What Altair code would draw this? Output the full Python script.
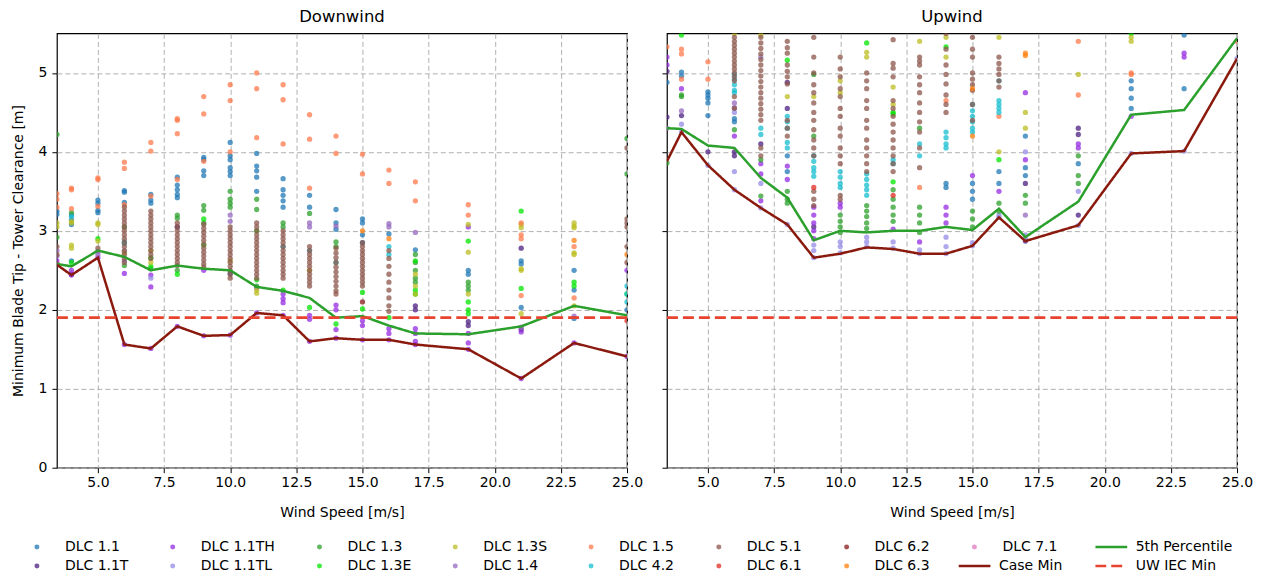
import altair as alt
import pandas as pd

# ---------------- data ----------------
DLCS = ["1.1", "1.1T", "1.1TH", "1.1TL", "1.3", "1.3E", "1.3S", "1.4",
        "1.5", "4.2", "5.1", "6.1", "6.2", "6.3", "7.1"]
DLC_COLORS = ["#1f77b4", "#4b1f80", "#962be0", "#968be6", "#2ca02c", "#00e600",
              "#bcbd22", "#9467bd", "#ff794b", "#17becf", "#8c564b", "#e12b23",
              "#8b1a1a", "#ff7f0e", "#e377c2"]
# legend order, filled row by row (two rows)
LEGEND_DLC = ["1.1", "1.1TH", "1.3", "1.3S", "1.5", "5.1", "6.2", "7.1",
              "1.1T", "1.1TL", "1.3E", "1.4", "4.2", "6.1", "6.3"]

LINE_SERIES = [" ", "5th Percentile", "Case Min", "UW IEC Min"]
LINE_COLORS = ["rgba(0,0,0,0)", "#2ca02c", "#8b1a0e", "#e8432e"]
LINE_DASHES = [[1, 0], [1, 0], [1, 0], [11, 5]]

WS = [3.45, 4, 5, 6, 7, 8, 9, 10, 11, 12, 13, 14, 15, 16, 17, 19, 21, 23, 25]
DW_P5 = [2.58, 2.55, 2.75, 2.67, 2.50, 2.56, 2.52, 2.50, 2.29, 2.24, 2.15, 1.90,
         1.92, 1.80, 1.70, 1.69, 1.79, 2.05, 1.93]
DW_MIN = [2.57, 2.44, 2.66, 1.56, 1.51, 1.79, 1.67, 1.68, 1.96, 1.93, 1.60, 1.64,
          1.62, 1.62, 1.56, 1.50, 1.13, 1.58, 1.41]
UW_P5 = [4.30, 4.29, 4.08, 4.05, 3.67, 3.42, 2.88, 3.00, 2.98, 3.00, 3.00, 3.05,
         3.01, 3.28, 2.92, 3.37, 4.47, 4.53, 5.44]
UW_MIN = [3.88, 4.25, 3.83, 3.52, 3.29, 3.08, 2.66, 2.71, 2.79, 2.77, 2.71, 2.71,
          2.81, 3.17, 2.87, 3.07, 3.98, 4.01, 5.18]
IEC_MIN = 1.9

X_TICKS = [5.0, 7.5, 10.0, 12.5, 15.0, 17.5, 20.0, 22.5, 25.0]
Y_TICKS = [0, 1, 2, 3, 4, 5]

DW_POINTS = {
    3.45: {"1.1": [3.25, 3.21], "1.1TH": [2.62], "1.3": [4.22, 2.92], "1.3S": [3.10, 3.05],
           "1.4": [2.75, 2.68], "1.5": [3.47, 3.40, 3.30], "5.1": [2.58, 2.70, 2.80]},
    4: {"1.1": [3.20, 3.14, 3.08, 2.62], "1.1T": [2.45], "1.1TH": [2.50, 2.44], "1.3": [3.23],
        "1.3E": [2.60], "1.3S": [3.12, 3.10, 2.82, 2.78], "1.5": [3.54, 3.52, 3.28], "4.2": [3.18]},
    5: {"1.1": [3.39, 3.35, 3.26, 3.23], "1.1TH": [2.66], "1.3E": [2.90], "1.3S": [3.10, 3.08, 2.87],
        "1.4": [2.74, 2.70], "1.5": [3.67, 3.65, 3.31], "5.1": [2.78]},
    6: {"1.1": [3.51, 3.49, 3.36], "1.1TH": [2.46, 1.56], "1.1TL": [2.62, 2.74], "1.3": [2.56, 3.05],
        "1.3S": [2.72], "1.5": [3.87, 3.79, 3.33], "4.2": [2.86, 2.84],
        "5.1": [3.30, 3.25, 3.20, 3.15, 3.10, 3.05, 3.00, 2.95, 2.90, 2.85, 2.80, 2.75, 2.70, 2.65, 2.60]},
    7: {"1.1": [3.46, 3.39, 3.35], "1.1TH": [2.44, 2.29, 1.51], "1.1TL": [2.40], "1.3": [2.52],
        "1.3E": [2.66, 2.55], "1.3S": [2.75, 2.60], "1.5": [4.12, 4.01, 3.44],
        "5.1": [3.25, 3.20, 3.15, 3.10, 3.05, 3.00, 2.95, 2.90, 2.85, 2.80, 2.75, 2.70, 2.65]},
    8: {"1.1": [3.68, 3.58, 3.52, 3.46, 3.42], "1.1T": [3.05], "1.1TH": [1.79], "1.3": [3.20, 3.16, 2.50],
        "1.3E": [2.45], "1.5": [4.42, 4.40, 4.23, 3.65],
        "5.1": [3.10, 3.05, 3.00, 2.95, 2.90, 2.85, 2.80, 2.75, 2.70, 2.65, 2.60, 2.56]},
    9: {"1.1": [3.93, 3.90, 3.76, 3.70], "1.1TH": [2.50, 1.67], "1.3": [3.32, 3.26, 3.10],
        "1.3E": [3.15, 2.82], "1.5": [4.70, 4.48, 3.88],
        "5.1": [3.08, 3.03, 2.98, 2.93, 2.88, 2.83, 2.78, 2.73, 2.68, 2.63, 2.58, 2.54]},
    10: {"1.1": [4.12, 3.95, 3.90, 3.80, 3.75, 3.70, 2.46], "1.1TH": [1.68], "1.3": [3.50, 3.40, 3.35, 3.30],
         "1.3S": [2.62], "1.4": [3.20, 3.12], "1.5": [4.85, 4.65, 4.00],
         "5.1": [3.05, 3.00, 2.95, 2.90, 2.85, 2.80, 2.75, 2.70, 2.65, 2.60, 2.55, 2.50, 2.45, 2.40]},
    11: {"1.1": [3.98, 3.82, 3.76, 3.68, 3.50], "1.1TH": [2.28, 1.96], "1.3": [3.40, 3.27, 2.30],
         "1.3E": [3.00, 2.38], "1.3S": [2.21, 2.25], "1.5": [5.00, 4.80, 4.18],
         "5.1": [3.10, 3.05, 3.00, 2.95, 2.90, 2.85, 2.80, 2.75, 2.70, 2.65, 2.60, 2.55, 2.50, 2.45, 2.40]},
    12: {"1.1": [3.66, 3.52, 3.45, 3.38, 3.30], "1.1TH": [2.20, 2.14, 2.09, 1.93], "1.3": [3.10, 3.05],
         "1.3E": [2.25], "1.5": [4.85, 4.66, 4.10], "4.2": [2.80],
         "5.1": [3.00, 2.95, 2.90, 2.85, 2.80, 2.75, 2.70, 2.65, 2.60, 2.55, 2.50, 2.45, 2.40]},
    13: {"1.1": [3.45, 3.30], "1.1TH": [1.93, 1.88, 1.60], "1.3": [3.22], "1.3E": [2.03], "1.3S": [2.50],
         "1.4": [3.10, 3.05], "1.5": [4.47, 4.16, 3.54], "4.2": [2.75],
         "5.1": [2.80, 2.75, 2.70, 2.65, 2.60, 2.55, 2.50, 2.45, 2.40, 2.35, 2.30]},
    14: {"1.1": [3.27, 3.10, 3.02], "1.1TH": [2.06, 2.00, 1.75, 1.64], "1.3": [2.86, 2.80], "1.3E": [1.82],
         "1.4": [3.06], "1.5": [4.20, 3.98], "4.2": [2.60],
         "5.1": [2.78, 2.72, 2.66, 2.60, 2.54, 2.48, 2.42, 2.36, 2.30, 2.24, 2.20]},
    15: {"1.1": [3.15, 3.10, 2.95, 2.85], "1.1TH": [1.86, 1.80, 1.62], "1.3E": [2.22, 2.01],
         "1.5": [3.97, 3.72], "5.1": [2.85, 2.80, 2.75, 2.70, 2.65, 2.60, 2.55, 2.50, 2.45, 2.40, 2.35, 2.30],
         "6.2": [2.10], "6.3": [3.00]},
    16: {"1.1": [2.96], "1.1TH": [1.76, 1.70, 1.62], "1.3E": [1.90], "1.4": [3.09, 3.05], "1.5": [3.77, 3.60],
         "4.2": [2.80, 2.70], "5.1": [2.75, 2.65, 2.55, 2.45, 2.35, 2.25, 2.15, 2.05, 1.98], "6.3": [2.90]},
    17: {"1.1": [2.76], "1.1T": [2.05, 2.00], "1.1TH": [1.76, 1.70, 1.60, 1.56],
         "1.3": [2.70, 2.60, 2.50, 2.40, 2.35], "1.3E": [2.62, 2.25, 2.20], "1.3S": [2.45, 2.30, 2.20],
         "1.4": [2.98], "1.5": [3.62, 3.38]},
    19: {"1.1": [2.50, 2.45], "1.1T": [1.85, 1.80], "1.1TH": [3.05, 1.70, 1.58, 1.50], "1.3": [2.35, 2.30, 2.25],
         "1.3E": [2.87, 2.10, 2.00, 1.95], "1.3S": [3.08, 2.73, 2.20], "1.5": [3.33, 3.20]},
    21: {"1.1": [2.62, 2.58, 2.03], "1.1T": [2.78, 1.75], "1.1TH": [1.72, 1.13], "1.3E": [3.25, 2.27],
         "1.3S": [3.08, 3.04, 2.52, 2.50, 1.95], "1.4": [1.78], "1.5": [3.10, 2.95, 2.90, 2.18]},
    23: {"1.1": [2.50, 2.25, 1.89], "1.1TH": [1.58], "1.3E": [2.35, 2.30],
         "1.3S": [3.10, 3.06, 3.04, 2.72, 2.70, 2.05], "1.4": [1.92], "1.5": [2.80, 2.15], "6.3": [2.88]},
    25: {"1.1": [2.00], "1.1TH": [2.50, 1.41], "1.3": [4.17, 3.72], "1.3E": [2.20], "4.2": [2.30, 2.20, 2.10],
         "5.1": [4.05, 3.15, 3.10, 3.05, 2.80, 2.60], "6.1": [1.86], "6.3": [2.70]},
}

UW_POINTS = {
    3.45: {"1.1": [4.88], "1.1T": [5.02, 4.44], "1.1TH": [5.20, 5.10], "1.3": [3.86], "1.4": [4.30],
           "1.5": [5.33]},
    4: {"1.1": [5.01, 4.96], "1.1T": [4.46], "1.1TH": [4.80], "1.1TL": [4.35, 4.25], "1.3": [4.72, 4.70],
        "1.3E": [5.48], "1.4": [4.52], "1.5": [5.30, 5.24, 4.92]},
    5: {"1.1": [4.76, 4.72, 4.68, 4.62, 4.46], "1.1T": [4.00], "1.1TL": [3.83], "1.5": [5.14, 4.92]},
    6: {"1.1": [4.42, 4.38], "1.1T": [4.00, 3.95], "1.1TH": [4.20], "1.1TL": [4.50, 3.75, 3.52], "1.3": [4.28],
        "1.3S": [5.50], "1.4": [4.62, 4.56], "4.2": [4.98, 4.92, 4.85, 4.78, 4.75],
        "5.1": [5.45, 5.40, 5.35, 5.30, 5.25, 5.20, 5.15, 5.10, 5.05, 5.00, 4.95, 4.90, 4.70, 4.55]},
    7: {"1.1T": [4.10], "1.1TH": [3.85, 3.72, 3.38], "1.1TL": [5.20, 3.60, 3.29], "1.3": [3.90, 3.44],
        "1.3S": [5.48], "4.2": [4.30, 4.22],
        "5.1": [5.45, 5.38, 5.31, 5.24, 5.17, 5.10, 5.03, 4.96, 4.89, 4.82, 4.75, 4.68, 4.61, 4.54,
                4.47, 4.40, 4.05, 3.95]},
    8: {"1.1": [3.95, 3.75], "1.1T": [4.88, 4.55], "1.1TH": [3.82, 3.65], "1.1TL": [3.08],
        "1.3": [3.50, 3.40, 3.35], "1.3E": [5.16], "1.3S": [4.70], "4.2": [4.45, 4.38, 4.30, 4.12, 4.05],
        "5.1": [5.40, 5.32, 5.25, 5.10, 5.02, 4.95, 4.86, 4.40, 4.30, 4.20]},
    9: {"1.1T": [3.05], "1.1TH": [3.30, 3.20, 3.10, 3.00, 2.90], "1.1TL": [2.82, 2.75, 2.66],
        "1.3": [4.98, 4.20], "1.3S": [4.70], "4.2": [3.95, 3.88, 3.80, 3.75, 3.69],
        "5.1": [5.45, 5.20, 5.00, 4.85, 4.75, 4.62, 4.50, 4.40, 4.28, 4.15, 4.05, 3.95, 3.50, 3.40, 3.32],
        "6.1": [3.55]},
    10: {"1.1TH": [3.35, 3.30], "1.1TL": [2.86, 2.80, 2.72], "1.3": [3.20, 3.12, 3.05, 2.98],
         "1.3S": [4.90, 4.75], "4.2": [3.75, 3.68, 3.60, 3.55],
         "5.1": [5.20, 5.05, 4.95, 4.80, 4.70, 4.55, 4.45, 4.30, 4.20, 4.05, 3.95, 3.85, 3.45, 3.40]},
    11: {"1.1TL": [2.92, 2.86, 2.80], "1.3": [3.32, 3.25, 3.18, 3.10, 3.03], "1.3E": [5.38],
         "1.3S": [5.26, 5.20], "4.2": [3.72, 3.65, 3.58, 3.52, 3.45],
         "5.1": [5.00, 4.90, 4.80, 4.65, 4.55, 4.40, 4.30, 4.15, 4.05, 3.95, 3.85, 3.75]},
    12: {"1.1TH": [3.02], "1.1TL": [2.86, 2.78], "1.3": [3.52, 3.40, 3.30, 3.20, 3.12],
         "1.3E": [4.50, 4.48, 3.62], "1.3S": [4.82, 4.60], "4.2": [3.90, 3.85],
         "5.1": [5.42, 5.12, 5.06, 4.95, 4.65, 4.55, 4.45, 4.35, 4.25, 4.15, 4.05, 3.95, 3.85, 3.75],
         "6.1": [3.45]},
    13: {"1.1TH": [2.86], "1.1TL": [2.76, 2.71], "1.3": [4.30, 3.30, 3.20, 3.10, 2.98], "1.3S": [5.40],
         "1.5": [3.55], "4.2": [4.10, 3.95],
         "5.1": [5.20, 5.15, 5.10, 4.95, 4.85, 4.75, 4.62, 4.50, 4.38, 4.25, 4.05, 3.80]},
    14: {"1.1": [3.60, 3.55], "1.1TH": [3.30, 3.20, 3.10], "1.1TL": [2.92, 2.80, 2.71], "1.3E": [5.33],
         "1.3S": [5.45, 5.20], "1.5": [4.65], "4.2": [4.25, 4.18, 4.10, 4.05],
         "5.1": [5.50, 5.30, 5.10, 4.98, 4.86, 4.72, 4.60, 4.50]},
    15: {"1.1": [3.60, 3.50, 3.40], "1.1TH": [3.70], "1.1TL": [2.85, 2.81], "1.3": [3.25, 3.15, 3.05],
         "4.2": [4.60, 4.52, 4.45, 4.38, 4.30, 4.25],
         "5.1": [5.45, 5.30, 5.20, 5.00, 4.92, 4.85, 4.78, 4.60, 4.40], "6.3": [4.80, 4.20]},
    16: {"1.1": [3.75, 3.60], "1.1TH": [3.50], "1.1TL": [3.20, 3.17], "1.3": [3.35, 3.25], "1.3E": [3.90],
         "1.3S": [5.45, 4.00], "1.5": [4.45], "4.2": [4.90, 4.65, 4.60, 4.55, 4.50],
         "5.1": [5.20, 5.12, 5.05, 4.98, 4.90, 4.82]},
    17: {"1.1": [4.20, 3.80, 3.70], "1.1T": [3.60, 2.87], "1.1TH": [4.75, 3.90], "1.1TL": [4.00, 2.95, 2.90],
         "1.3": [3.45, 3.35], "1.3S": [4.50, 4.30], "1.4": [3.20], "6.3": [5.25, 5.22]},
    19: {"1.1": [3.85], "1.1T": [4.30, 4.22, 3.20], "1.1TH": [4.10, 4.05], "1.1TL": [3.50, 3.07],
         "1.3": [3.95, 3.70, 3.60], "1.3S": [4.98], "1.5": [5.40, 4.72]},
    21: {"1.1": [4.90, 4.80, 4.68, 4.55], "1.1TH": [4.45], "1.1TL": [3.98], "1.3E": [5.50],
         "1.3S": [5.45, 5.40], "1.5": [5.00, 4.98]},
    23: {"1.1": [5.48, 4.80], "1.1TH": [5.25, 5.20], "1.1TL": [4.01]},
    25: {"1.1TL": [5.18], "1.5": [5.40]},
}

# ---------------- styling ----------------
FONT = "DejaVu Sans"
PANEL_W, PANEL_H = 571, 435


def points_frame(pts):
    rows = []
    for ws, groups in pts.items():
        for dlc, vals in groups.items():
            for v in vals:
                rows.append({"ws": ws, "clear": v, "dlc": "DLC " + dlc, "k": DLCS.index(dlc)})
    return pd.DataFrame(rows).sort_values("k", kind="stable").reset_index(drop=True)


color_scale = alt.Scale(domain=["DLC " + d for d in LEGEND_DLC],
                        range=[DLC_COLORS[DLCS.index(d)] for d in LEGEND_DLC])
stroke_scale = alt.Scale(domain=LINE_SERIES, range=LINE_COLORS)
dash_scale = alt.Scale(domain=LINE_SERIES, range=LINE_DASHES)

dlc_legend = alt.Legend(
    title=None, orient="none", legendX=-36, legendY=507, direction="horizontal", columns=8,
    gridAlign="each",
    symbolType="circle", symbolSize=25, symbolOpacity=0.75, symbolStrokeWidth=0,
    clipHeight=15, rowPadding=4, columnPadding=28, symbolOffset=9, labelOffset=21,
    labelFontSize=14, labelFont=FONT, labelColor="black", padding=0,
)
line_legend = alt.Legend(
    title=None, orient="none", legendX=903, legendY=507, direction="horizontal", columns=2,
    gridAlign="each",
    symbolType="stroke", symbolSize=1024, symbolStrokeWidth=2.5,
    clipHeight=15, rowPadding=4, columnPadding=32, symbolOffset=-1.5, labelOffset=7,
    labelFontSize=14, labelFont=FONT, labelColor="black", padding=0,
)

x_scale = alt.Scale(domain=[3.45, 25], nice=False, zero=False)
y_scale = alt.Scale(domain=[0, 5.5], nice=False, zero=True)


def x_enc():
    return alt.X("ws:Q", scale=x_scale,
                 axis=alt.Axis(values=X_TICKS, format=".1f", title="Wind Speed [m/s]",
                               labelFlush=False, labelOverlap=False, labelPadding=3,
                               titlePadding=16))


def y_enc(show):
    if show:
        ax = alt.Axis(values=Y_TICKS, format="d", title="Minimum Blade Tip - Tower Clearance [m]",
                      labelPadding=5, titlePadding=13)
    else:
        ax = alt.Axis(values=Y_TICKS, labels=False, title=None)
    return alt.Y("clear:Q", scale=y_scale, axis=ax)


def panel(name, pts, p5, mn, show):
    pts_layer = alt.Chart(points_frame(pts)).mark_circle(size=28, opacity=0.75, clip=True).encode(
        x=x_enc(), y=y_enc(show),
        color=alt.Color("dlc:N", scale=color_scale, legend=dlc_legend),
    )
    p5_df = pd.DataFrame({"ws": WS, "clear": p5, "series": "5th Percentile"})
    mn_df = pd.DataFrame({"ws": WS, "clear": mn, "series": "Case Min"})
    p5_layer = alt.Chart(p5_df).mark_line(strokeWidth=2.5, clip=True).encode(
        x=x_enc(), y=y_enc(show),
        stroke=alt.Stroke("series:N", scale=stroke_scale, legend=line_legend),
        strokeDash=alt.StrokeDash("series:N", scale=dash_scale, legend=line_legend),
    )
    mn_layer = alt.Chart(mn_df).mark_line(strokeWidth=2.5, clip=True).encode(
        x=x_enc(), y=y_enc(show),
        stroke=alt.Stroke("series:N", scale=stroke_scale, legend=line_legend),
        strokeDash=alt.StrokeDash("series:N", scale=dash_scale, legend=line_legend),
    )
    iec_df = pd.DataFrame({"clear": [IEC_MIN], "series": ["UW IEC Min"]})
    iec_layer = alt.Chart(iec_df).mark_rule(strokeWidth=2.8).encode(
        y=y_enc(show),
        stroke=alt.Stroke("series:N", scale=stroke_scale, legend=line_legend),
        strokeDash=alt.StrokeDash("series:N", scale=dash_scale, legend=line_legend),
    )
    return alt.layer(pts_layer, p5_layer, mn_layer, iec_layer).properties(
        width=PANEL_W, height=PANEL_H,
        title=alt.TitleParams(text=name, fontSize=16.5, fontWeight="normal", font=FONT,
                              color="black", offset=8, anchor="middle", frame="group"),
    )


left = panel("Downwind", DW_POINTS, DW_P5, DW_MIN, True)
right = panel("Upwind", UW_POINTS, UW_P5, UW_MIN, False)

chart = (
    alt.hconcat(left, right, spacing=16)
    .resolve_scale(color="shared", stroke="shared", strokeDash="shared")
    .resolve_legend(color="shared", stroke="shared", strokeDash="shared")
    .properties(padding={"left": 2, "top": -1, "right": 0, "bottom": 0})
    .configure_axis(labelFont=FONT, titleFont=FONT, labelFontSize=14, titleFontSize=14,
                    labelColor="black", titleColor="black", titleFontWeight="normal",
                    tickColor="black", tickSize=5, tickWidth=1, domain=False, grid=True,
                    gridColor="#b0b0b0", gridDash=[5, 3], gridWidth=1, gridOpacity=1)
    .configure_view(stroke="black", strokeWidth=1.2)
)

chart.save("out.html", embed_options={"renderer": "svg", "actions": False})
